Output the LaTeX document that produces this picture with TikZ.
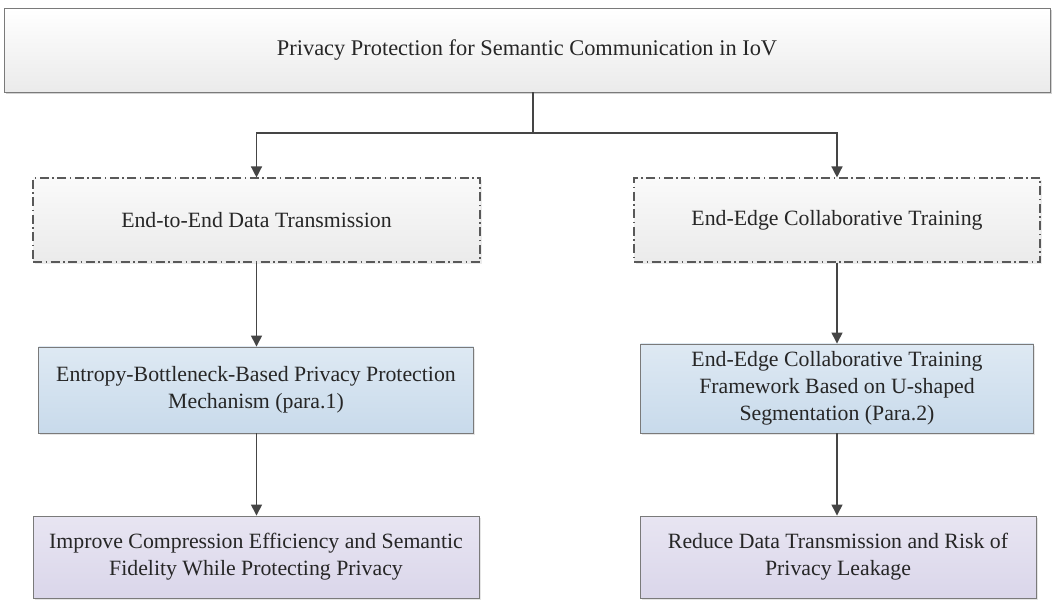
\documentclass[tikz,border=0pt]{standalone}
\usepackage{fontspec}
\setmainfont{Liberation Serif}
\newfontfamily\tnr{Liberation Serif}
\usetikzlibrary{arrows.meta,shadows,calc}
\definecolor{lineC}{HTML}{454545}
\definecolor{bordC}{HTML}{7A7A7A}
\begin{document}
\begin{tikzpicture}[x=1pt,y=-1pt,
  every node/.style={font=\tnr\fontsize{21.8}{27}\selectfont, text=black!85, align=center, inner sep=0pt},
  boxbase/.style={rectangle, draw=bordC, line width=0.9pt},
  topbox/.style={boxbase, top color=white, bottom color=black!8, drop shadow={shadow xshift=1.5pt, shadow yshift=-2.5pt, opacity=0.35}},
  dashbox/.style={rectangle, draw=black!65, line width=1.1pt, dash pattern=on 9pt off 3.5pt on 1.5pt off 3.5pt, top color=black!2, bottom color=black!8, drop shadow={shadow xshift=1.5pt, shadow yshift=-2pt, opacity=0.15}},
  bluebox/.style={boxbase, top color={rgb,255:red,222;green,233;blue,243}, bottom color={rgb,255:red,200;green,218;blue,235}, drop shadow={shadow xshift=1.5pt, shadow yshift=-2pt, opacity=0.2}},
  purplebox/.style={boxbase, top color={rgb,255:red,232;green,229;blue,242}, bottom color={rgb,255:red,218;green,214;blue,234}, drop shadow={shadow xshift=1.5pt, shadow yshift=-2pt, opacity=0.2}},
  arr/.style={draw=lineC, line width=1.4pt, -{Triangle[length=11pt,width=11pt]}},
  conn/.style={draw=lineC, line width=1.4pt}
]
\useasboundingbox (0,0) rectangle (1052,601);
\fill[white] (0,0) rectangle (1052,601);

\node[topbox, minimum width=1046pt, minimum height=84pt, font=\tnr\fontsize{22.4}{27}\selectfont] (t) at (527,50) {Privacy Protection for Semantic Communication in IoV};

\node[dashbox, minimum width=447pt, minimum height=84pt] (a) at (256.5,220) {End-to-End Data Transmission};
\node[dashbox, minimum width=406pt, minimum height=84pt] (b) at (837,220) {End-Edge Collaborative Training};

\node[bluebox, minimum width=435pt, minimum height=86pt] (c) at (256,390) {Entropy-Bottleneck-Based Privacy Protection\\Mechanism (para.1)};
\node[bluebox, minimum width=393pt, minimum height=89pt] (d) at (837,388.5) {End-Edge Collaborative Training\\Framework Based on U-shaped\\Segmentation (Para.2)};

\node[purplebox, minimum width=446pt, minimum height=82pt] (e) at (256,557) {Improve Compression Efficiency and Semantic\\Fidelity While Protecting Privacy};
\node[purplebox, minimum width=396pt, minimum height=82pt] (f) at (838,557) {Reduce Data Transmission and Risk of\\Privacy Leakage};

\coordinate (j) at (533,133);
\draw[conn] (t.south -| j) -- (j);
\draw[arr] (j) -| (a.north);
\draw[arr] (j) -| (b.north);
\draw[arr] (a.south) -- (a.south |- c.north);
\draw[arr] (b.south) -- (b.south |- d.north);
\draw[arr] (a.south |- c.south) -- (a.south |- e.north);
\draw[arr] (b.south |- d.south) -- (b.south |- f.north);
\end{tikzpicture}
\end{document}
